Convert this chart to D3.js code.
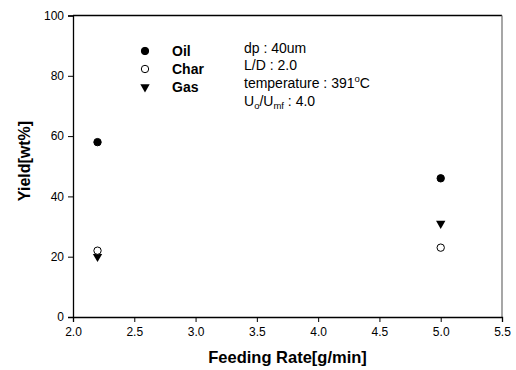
<!DOCTYPE html>
<html>
<head>
<meta charset="utf-8">
<script src="https://cdn.jsdelivr.net/npm/d3@7"></script>
<style>
  body { margin: 0; background: #fff; }
  svg { font-family: "Liberation Sans", Arial, sans-serif; }
</style>
</head>
<body>
<div id="chart"></div>
<script>
// data
const feedRates = [2.2, 5.0];
const oilYield = [58, 46];
const charYield = [22, 23];
const gasYield = [20, 31];
const seriesNames = ['Oil', 'Char', 'Gas'];
const xTicks = [2.0, 2.5, 3.0, 3.5, 4.0, 4.5, 5.0, 5.5];
const yTicks = [0, 20, 40, 60, 80, 100];

const width = 516, height = 370;
const margin = { top: 15.5, right: 14, bottom: 53, left: 73 };

const svg = d3.select('#chart').append('svg')
    .attr('width', width)
    .attr('height', height);

const x = d3.scaleLinear().domain([2.0, 5.5]).range([margin.left, width - margin.right]);
const y = d3.scaleLinear().domain([0, 100]).range([height - margin.bottom, margin.top]);

// frame: top black, right grey
svg.append('line')
    .attr('x1', x(2.0)).attr('x2', x(5.5))
    .attr('y1', y(100)).attr('y2', y(100))
    .attr('stroke', '#000').attr('stroke-width', 1.3);
svg.append('line')
    .attr('x1', x(5.5)).attr('x2', x(5.5))
    .attr('y1', y(100)).attr('y2', y(0))
    .attr('stroke', '#777').attr('stroke-width', 1.3);

const xAxis = svg.append('g')
    .attr('transform', `translate(0,${y(0)})`)
    .call(d3.axisBottom(x).tickValues(xTicks).tickFormat(d3.format('.1f')).tickSizeOuter(0).tickSize(5).tickPadding(5));
const yAxis = svg.append('g')
    .attr('transform', `translate(${x(2.0)},0)`)
    .call(d3.axisLeft(y).tickValues(yTicks).tickSizeOuter(0).tickSize(5).tickPadding(4));

[xAxis, yAxis].forEach(ax => {
    ax.select('.domain').attr('stroke', '#000').attr('stroke-width', 1.3);
    ax.selectAll('.tick line').attr('stroke', '#000').attr('stroke-width', 1);
    ax.selectAll('.tick text')
        .attr('fill', '#000')
        .style('font-size', '12px')
        .style('font-family', '"Liberation Sans", Arial, sans-serif');
});

// axis titles
svg.append('text')
    .attr('x', (x(2.0) + x(5.5)) / 2)
    .attr('y', 363)
    .attr('text-anchor', 'middle')
    .style('font-size', '16.5px')
    .style('font-weight', 'bold')
    .text('Feeding Rate[g/min]');
svg.append('text')
    .attr('transform', `translate(30,161) rotate(-90)`)
    .attr('text-anchor', 'middle')
    .style('font-size', '16px')
    .style('font-weight', 'bold')
    .text('Yield[wt%]');

// markers
const triangle = d3.symbol().type(d3.symbolTriangle).size(38);
const drawMarker = (g, kind, cx, cy) => {
    if (kind === 'Gas') {
        g.append('path')
            .attr('d', triangle())
            .attr('transform', `translate(${cx},${cy}) rotate(180)`)
            .attr('fill', '#000');
    } else {
        g.append('circle')
            .attr('cx', cx).attr('cy', cy).attr('r', 3.7)
            .attr('fill', kind === 'Oil' ? '#000' : '#fff')
            .attr('stroke', '#000').attr('stroke-width', 1);
    }
};

const points = svg.append('g');
const series = { Oil: oilYield, Char: charYield, Gas: gasYield };
// draw in order so Char sits on top like the original
['Gas', 'Oil', 'Char'].forEach(name => {
    series[name].forEach((v, i) => drawMarker(points, name, x(feedRates[i]), y(v)));
});

// legend
const legend = svg.append('g');
seriesNames.forEach((name, i) => {
    const ly = 51 + i * 18;
    drawMarker(legend, name, 145, ly);
    legend.append('text')
        .attr('x', 172).attr('y', ly + 5)
        .style('font-size', '14px')
        .style('font-weight', 'bold')
        .text(name);
});

// annotation
const note = svg.append('text').style('font-size', '14px');
note.append('tspan').attr('x', 244).attr('y', 52.5).text('dp : 40um');
note.append('tspan').attr('x', 244).attr('y', 70).text('L/D : 2.0');
note.append('tspan').attr('x', 244).attr('y', 87.5).text('temperature : 391');
note.append('tspan').attr('dy', -5.5).style('font-size', '9.5px').text('o');
note.append('tspan').attr('dy', 5.5).text('C');
note.append('tspan').attr('x', 244).attr('y', 105.5).text('U');
note.append('tspan').attr('dy', 3).style('font-size', '9.5px').text('o');
note.append('tspan').attr('dy', -3).text('/U');
note.append('tspan').attr('dy', 3).style('font-size', '9.5px').text('mf');
note.append('tspan').attr('dy', -3).text(' : 4.0');
</script>
</body>
</html>
